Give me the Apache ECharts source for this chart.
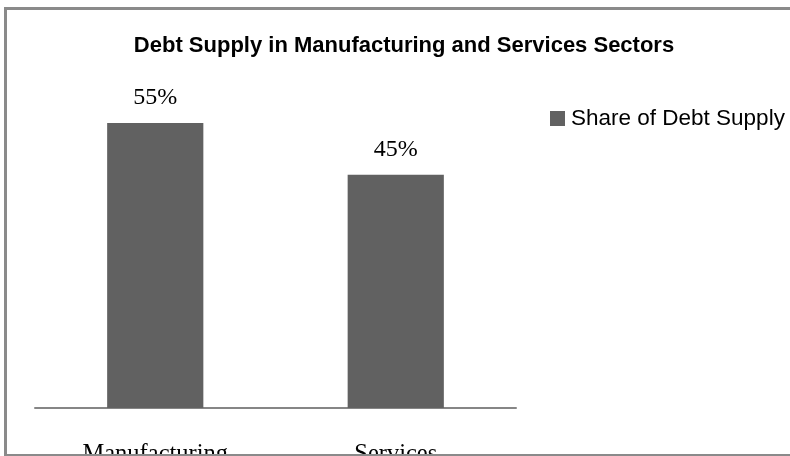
<!DOCTYPE html>
<html>
<head>
<meta charset="utf-8">
<style>
  html, body { margin: 0; padding: 0; background: #ffffff; }
  #chart { width: 790px; height: 456px; }
</style>
<script src="https://cdn.jsdelivr.net/npm/echarts@6/dist/echarts.min.js"></script>
</head>
<body>
<div id="chart"></div>
<script>
// Sectors and their share of debt supply (percent)
const categories = ['Manufacturing', 'Services'];
const shareValues = [55, 45];
const seriesName = 'Share of Debt Supply';
const chartTitle = 'Debt Supply in Manufacturing and Services Sectors';

const chart = echarts.init(document.getElementById('chart'), null, { renderer: 'canvas' });

chart.setOption({
  backgroundColor: '#ffffff',
  animation: false,
  title: {
    text: chartTitle,
    left: 404,
    textAlign: 'center',
    top: 35,
    padding: 0,
    textStyle: {
      fontFamily: '"Liberation Sans", Arial, sans-serif',
      fontWeight: 'bold',
      fontSize: 22,
      color: '#000000'
    }
  },
  legend: {
    data: [seriesName],
    left: 550,
    top: 107,
    padding: 0,
    itemWidth: 15,
    itemHeight: 15,
    itemGap: 6,
    icon: 'rect',
    textStyle: {
      fontFamily: '"Liberation Sans", Arial, sans-serif',
      fontSize: 22.5,
      color: '#000000',
      padding: [0, 0, 0, 1]
    }
  },
  grid: {
    left: 35,
    top: 97,
    width: 481,
    height: 311,
    containLabel: false,
    outerBoundsMode: 'none'
  },
  xAxis: {
    type: 'category',
    data: categories,
    axisLine: { show: true, lineStyle: { color: '#868686', width: 2 } },
    axisTick: { show: false },
    axisLabel: {
      margin: 34,
      fontFamily: '"Liberation Serif", "Times New Roman", serif',
      fontSize: 24.5,
      color: '#000000'
    }
  },
  yAxis: {
    type: 'value',
    min: 0,
    max: 60,
    show: false,
    splitLine: { show: false }
  },
  series: [{
    name: seriesName,
    type: 'bar',
    data: shareValues,
    barWidth: '40%',
    itemStyle: { color: '#616161' },
    label: {
      show: true,
      position: 'top',
      distance: 13,
      formatter: '{c}%',
      fontFamily: '"Liberation Serif", "Times New Roman", serif',
      fontSize: 24,
      color: '#000000'
    }
  }],
  graphic: [{
    type: 'rect',
    shape: { x: 5.5, y: 8.5, width: 820, height: 447 },
    style: { fill: null, stroke: '#8a8a8a', lineWidth: 3 },
    z: 100
  }]
});
</script>
</body>
</html>
